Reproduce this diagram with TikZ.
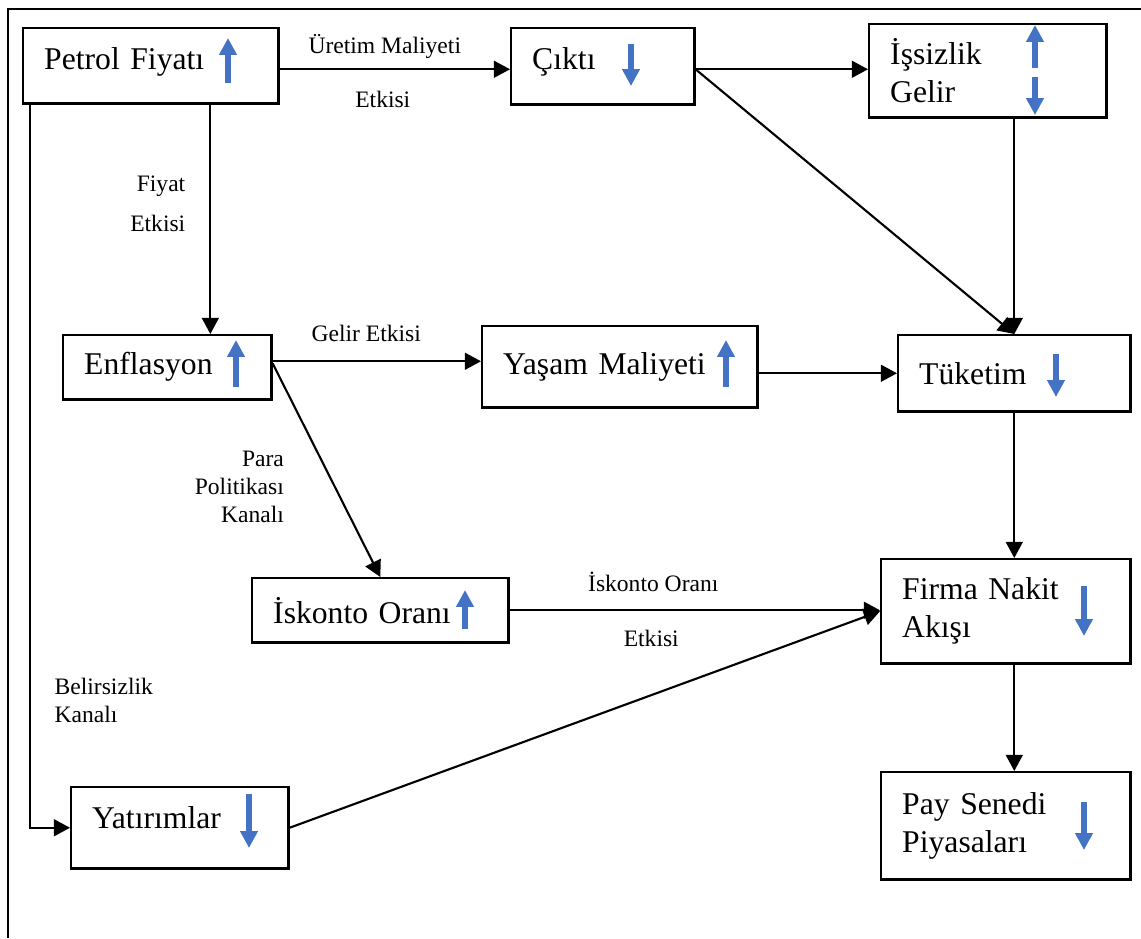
\documentclass[tikz,border=0pt]{standalone}
\usepackage{fontspec}
\setmainfont{Liberation Serif}
\usetikzlibrary{arrows.meta,positioning}
\definecolor{trendblue}{HTML}{4472C4}

\tikzset{
  box/.style={draw, line width=0.7pt, anchor=north west, align=left, inner xsep=0.21cm, inner ysep=0pt, font=\fontsize{9}{10.8}\selectfont},
  conn/.style={line width=0.6pt, -{Triangle[length=4.6pt,width=4.8pt]}},
  lbl/.style={font=\fontsize{6.7}{8}\selectfont, inner sep=0pt},
  trend/.style={draw=trendblue, line width=1.7pt, -{Triangle[length=4.8pt,width=4.8pt]}},
}

\begin{document}
\begin{tikzpicture}[x=0.01cm, y=-0.01cm]
		\useasboundingbox (0,0) rectangle (1141,938);
		\draw[line width=0.8pt] (1141,9) -- (8,9) -- (8,938);
		% boxes
		\node[box, text width=2.13cm, minimum height=0.75cm, text depth=0.15cm] (petrol) at (22,27) {Petrol Fiyatı};
		\node[box, text width=1.41cm, minimum height=0.76cm, text depth=0.15cm] (cikti) at (510,27) {Çıktı};
		\node[box, text width=1.95cm, minimum height=0.93cm] (issiz) at (868,23) {İşsizlik\\Gelir};
		\node[box, text width=1.66cm, minimum height=0.64cm] (enfl) at (62,334) {Enflasyon};
		\node[box, text width=2.33cm, minimum height=0.81cm] (yasam) at (481,325) {Yaşam Maliyeti};
		\node[box, text width=1.90cm, minimum height=0.76cm] (tuketim) at (897,334) {Tüketim};
		\node[box, text width=2.14cm, minimum height=0.64cm] (iskonto) at (251,577) {İskonto Oranı};
		\node[box, text width=2.07cm, minimum height=1.04cm] (firma) at (880,558) {Firma Nakit\\Akışı};
		\node[box, text width=1.75cm, minimum height=0.81cm, text depth=0.2cm] (yatirim) at (70,786) {Yatırımlar};
		\node[box, text width=2.07cm, minimum height=1.07cm] (pay) at (880,771) {Pay Senedi\\Piyasaları};
		% up / down marks
		\draw[trend] (228,83) -- (228,38);
		\draw[trend] (631,44) -- (631,86);
		\draw[trend] (1035,68) -- (1035,25);
		\draw[trend] (1035,77) -- (1035,115);
		\draw[trend] (236,387) -- (236,340);
		\draw[trend] (726,387) -- (726,340);
		\draw[trend] (1056,354) -- (1056,397);
		\draw[trend] (465,629) -- (465,590);
		\draw[trend] (1084,586) -- (1084,636);
		\draw[trend] (249,794) -- (249,848);
		\draw[trend] (1084,802) -- (1084,850);
		% channels
		\draw[conn] ([yshift=-0.035cm]petrol.east) -- ([yshift=-0.035cm]petrol.east -| cikti.west)
			node[lbl, midway, xshift=-0.1cm, yshift=0.23cm] {Üretim Maliyeti}
			node[lbl, midway, xshift=-0.12cm, yshift=-0.30cm] {Etkisi};
		\draw[conn] ([xshift=0.595cm]petrol.south) -- ([xshift=0.595cm]petrol.south |- enfl.north)
			node[lbl, midway, anchor=east, align=right, xshift=-0.24cm, yshift=0.155cm] {Fiyat\\[0.11cm]Etkisi};
		\draw[conn] ([xshift=0.08cm]petrol.south west) |- (yatirim.west);
		\node[lbl, anchor=west, align=left] (belirsiz) at (54,700) {Belirsizlik\\Kanalı};
		\draw[conn] ([yshift=-0.03cm]cikti.east) -- ([yshift=-0.03cm]cikti.east -| issiz.west);
		\draw[conn] ([yshift=-0.03cm]cikti.east) -- (tuketim.north);
		\draw[conn] (issiz.south -| tuketim.north) -- (tuketim.north);
		\draw[conn] ([yshift=0.06cm]enfl.east) -- ([yshift=0.06cm]enfl.east -| yasam.west)
			node[lbl, midway, xshift=-0.105cm, yshift=0.28cm] {Gelir Etkisi};
		\draw[conn] ([yshift=0.04cm]enfl.east) -- (iskonto.north)
			node[lbl, midway, anchor=east, align=right, xshift=-0.415cm, yshift=-0.165cm] {Para\\Politikası\\Kanalı};
		\draw[conn] (yasam.east |- tuketim.west) -- (tuketim.west);
		\draw[conn] (tuketim.south) -- (tuketim.south |- firma.north);
		\draw[conn] (iskonto.east) -- (iskonto.east -| firma.west)
			node[lbl, midway, xshift=-0.415cm, yshift=0.28cm] {İskonto Oranı}
			node[lbl, midway, xshift=-0.435cm, yshift=-0.28cm] {Etkisi};
		\draw[conn] (yatirim.east) -- (firma.west);
		\draw[conn] (firma.south -| tuketim.south) -- (pay.north -| tuketim.south);
\end{tikzpicture}
\end{document}
